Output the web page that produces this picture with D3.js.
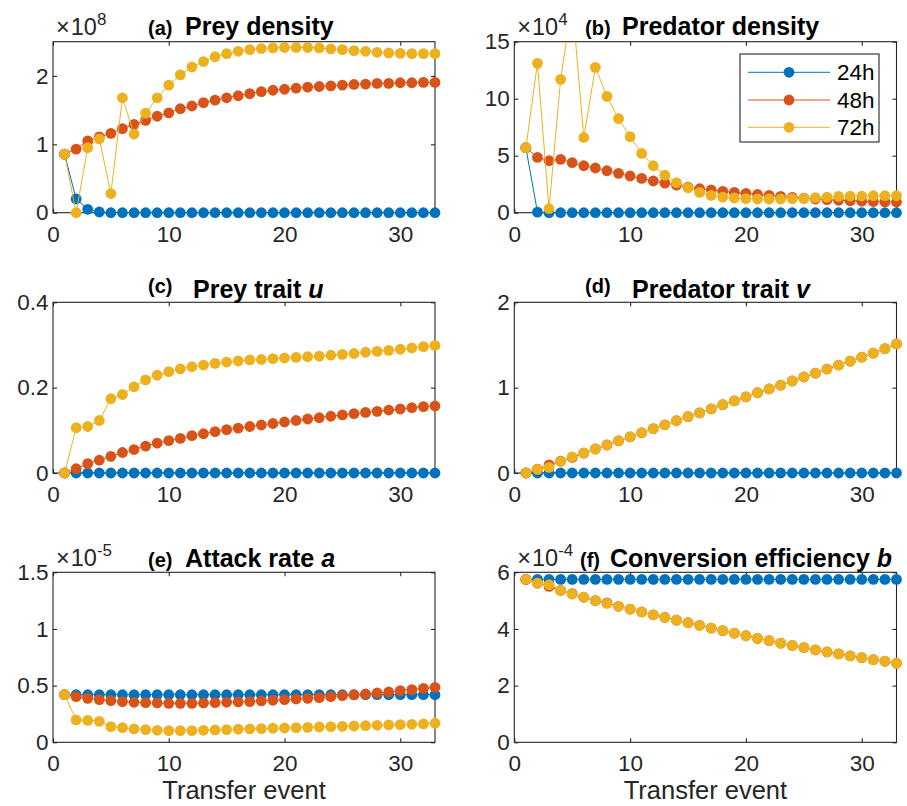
<!DOCTYPE html>
<html>
<head>
<meta charset="utf-8">
<script src="https://cdn.jsdelivr.net/npm/d3@7"></script>
<style>
  body { margin: 0; background: #fff; }
  svg { display: block; font-family: "Liberation Sans", Arial, Helvetica, sans-serif; }
</style>
</head>
<body>
<svg id="fig" width="907" height="806"></svg>
<script>
// Transfer events 1..33 on the x axis
const transferEvent = d3.range(1, 34);
const xTicks = [0, 10, 20, 30];

const seriesNames = ["24h", "48h", "72h"];
const seriesColors = ["#0072BD", "#D95319", "#EDB120"];

// (a) Prey density, in units of 10^8
const preyDensity24 = [0.856, 0.20, 0.05, 0.01, 0, 0, 0, 0, 0, 0, 0, 0, 0, 0, 0, 0, 0, 0, 0, 0, 0, 0, 0, 0, 0, 0, 0, 0, 0, 0, 0, 0, 0];
const preyDensity48 = [0.856, 0.93, 1.05, 1.11, 1.16, 1.23, 1.29, 1.35, 1.41, 1.46, 1.52, 1.56, 1.61, 1.645, 1.68, 1.71, 1.74, 1.77, 1.79, 1.805, 1.82, 1.835, 1.845, 1.855, 1.865, 1.875, 1.88, 1.89, 1.89, 1.90, 1.90, 1.905, 1.905];
const preyDensity72 = [0.856, 0.0, 0.95, 1.08, 0.28, 1.68, 1.15, 1.455, 1.68, 1.865, 2.015, 2.13, 2.21, 2.28, 2.325, 2.36, 2.385, 2.40, 2.41, 2.415, 2.415, 2.415, 2.41, 2.395, 2.385, 2.37, 2.36, 2.345, 2.335, 2.33, 2.325, 2.325, 2.325];

// (b) Predator density, in units of 10^4
const predDensity24 = [5.7, 0.05, 0, 0, 0, 0, 0, 0, 0, 0, 0, 0, 0, 0, 0, 0, 0, 0, 0, 0, 0, 0, 0, 0, 0, 0, 0, 0, 0, 0, 0, 0, 0];
const predDensity48 = [5.7, 4.85, 4.56, 4.68, 4.39, 4.12, 3.92, 3.68, 3.45, 3.22, 3.01, 2.78, 2.6, 2.42, 2.25, 2.1, 1.99, 1.87, 1.78, 1.7, 1.6, 1.52, 1.43, 1.35, 1.27, 1.2, 1.14, 1.09, 1.05, 1.01, 0.98, 0.95, 0.94];
const predDensity72 = [5.7, 13.1, 0.35, 11.7, 18.5, 6.6, 12.75, 10.2, 8.25, 6.67, 5.2, 4.12, 3.3, 2.63, 2.19, 1.78, 1.52, 1.37, 1.29, 1.23, 1.2, 1.2, 1.2, 1.23, 1.26, 1.32, 1.37, 1.43, 1.46, 1.46, 1.49, 1.49, 1.49];

// (c) Prey trait u
const preyTrait24 = [0, 0, 0, 0, 0, 0, 0, 0, 0, 0, 0, 0, 0, 0, 0, 0, 0, 0, 0, 0, 0, 0, 0, 0, 0, 0, 0, 0, 0, 0, 0, 0, 0];
const preyTrait48 = [0, 0.010, 0.022, 0.030, 0.039, 0.048, 0.055, 0.063, 0.070, 0.076, 0.081, 0.0875, 0.092, 0.097, 0.1015, 0.105, 0.109, 0.1125, 0.116, 0.1195, 0.123, 0.1265, 0.1295, 0.133, 0.136, 0.139, 0.142, 0.1445, 0.1475, 0.150, 0.153, 0.1555, 0.157];
const preyTrait72 = [0, 0.106, 0.109, 0.123, 0.174, 0.184, 0.202, 0.218, 0.229, 0.2375, 0.244, 0.249, 0.253, 0.257, 0.260, 0.2625, 0.265, 0.266, 0.268, 0.2695, 0.271, 0.2725, 0.274, 0.276, 0.278, 0.280, 0.283, 0.285, 0.2875, 0.290, 0.293, 0.296, 0.299];

// (d) Predator trait v
const predTrait24 = [0, 0, 0, 0, 0, 0, 0, 0, 0, 0, 0, 0, 0, 0, 0, 0, 0, 0, 0, 0, 0, 0, 0, 0, 0, 0, 0, 0, 0, 0, 0, 0, 0];
const predTrait48 = [0, 0.045, 0.095, 0.14, 0.182, 0.233, 0.281, 0.328, 0.376, 0.424, 0.471, 0.52, 0.565, 0.612, 0.66, 0.705, 0.752, 0.80, 0.845, 0.892, 0.94, 0.985, 1.03, 1.078, 1.125, 1.17, 1.218, 1.265, 1.31, 1.358, 1.405, 1.457, 1.512];
const predTrait72 = [0, 0.043, 0.066, 0.137, 0.19, 0.235, 0.283, 0.33, 0.378, 0.425, 0.472, 0.52, 0.565, 0.612, 0.66, 0.705, 0.752, 0.80, 0.845, 0.892, 0.94, 0.985, 1.03, 1.078, 1.125, 1.17, 1.218, 1.265, 1.31, 1.358, 1.405, 1.457, 1.512];

// (e) Attack rate a, in units of 10^-5
const attack24 = [0.42, 0.42, 0.42, 0.42, 0.42, 0.42, 0.42, 0.42, 0.42, 0.42, 0.42, 0.42, 0.42, 0.42, 0.42, 0.42, 0.42, 0.42, 0.42, 0.42, 0.42, 0.42, 0.42, 0.42, 0.42, 0.42, 0.42, 0.42, 0.42, 0.42, 0.42, 0.42, 0.42];
const attack48 = [0.42, 0.403, 0.388, 0.376, 0.368, 0.359, 0.353, 0.35, 0.347, 0.344, 0.344, 0.344, 0.347, 0.35, 0.353, 0.356, 0.359, 0.365, 0.371, 0.376, 0.382, 0.388, 0.394, 0.403, 0.412, 0.418, 0.426, 0.435, 0.444, 0.456, 0.465, 0.476, 0.485];
const attack72 = [0.42, 0.197, 0.194, 0.185, 0.138, 0.129, 0.118, 0.112, 0.106, 0.103, 0.103, 0.103, 0.106, 0.109, 0.112, 0.115, 0.118, 0.121, 0.124, 0.126, 0.129, 0.132, 0.135, 0.138, 0.141, 0.144, 0.147, 0.15, 0.153, 0.156, 0.159, 0.162, 0.168];

// (f) Conversion efficiency b, in units of 10^-4
const conv24 = [5.75, 5.75, 5.75, 5.75, 5.75, 5.75, 5.75, 5.75, 5.75, 5.75, 5.75, 5.75, 5.75, 5.75, 5.75, 5.75, 5.75, 5.75, 5.75, 5.75, 5.75, 5.75, 5.75, 5.75, 5.75, 5.75, 5.75, 5.75, 5.75, 5.75, 5.75, 5.75, 5.75];
const conv48 = [5.75, 5.62, 5.5, 5.36, 5.25, 5.12, 5.0, 4.92, 4.8, 4.7, 4.6, 4.5, 4.41, 4.31, 4.22, 4.13, 4.03, 3.94, 3.85, 3.76, 3.67, 3.59, 3.5, 3.42, 3.34, 3.26, 3.19, 3.12, 3.05, 2.99, 2.92, 2.86, 2.79];
const conv72 = [5.75, 5.62, 5.56, 5.36, 5.23, 5.12, 5.0, 4.9, 4.8, 4.7, 4.6, 4.5, 4.41, 4.31, 4.22, 4.13, 4.03, 3.94, 3.85, 3.76, 3.67, 3.59, 3.5, 3.42, 3.34, 3.26, 3.19, 3.12, 3.05, 2.99, 2.92, 2.86, 2.79];

// Y-axis tick labels per panel
const yTicksA = [0, 1, 2];
const yTicksB = [0, 5, 10, 15];
const yTicksC = [0, 0.2, 0.4];
const yTicksD = [0, 1, 2];
const yTicksE = [0, 0.5, 1, 1.5];
const yTicksF = [0, 2, 4, 6];

const panels = [
  { tag: "(a)", name: "Prey density ",        sym: "",  exp: "8",  yMax: 2.5, yTicks: yTicksA, data: [preyDensity24, preyDensity48, preyDensity72], col: 0, row: 0 },
  { tag: "(b)", name: "Predator density ",    sym: "",  exp: "4",  yMax: 15,  yTicks: yTicksB, data: [predDensity24, predDensity48, predDensity72], col: 1, row: 0 },
  { tag: "(c)", name: "Prey trait ",          sym: "u", exp: null, yMax: 0.4, yTicks: yTicksC, data: [preyTrait24, preyTrait48, preyTrait72], col: 0, row: 1 },
  { tag: "(d)", name: "Predator trait ",      sym: "v", exp: null, yMax: 2,   yTicks: yTicksD, data: [predTrait24, predTrait48, predTrait72], col: 1, row: 1 },
  { tag: "(e)", name: "Attack rate ",         sym: "a", exp: "-5", yMax: 1.5, yTicks: yTicksE, data: [attack24, attack48, attack72], col: 0, row: 2 },
  { tag: "(f)", name: "Conversion efficiency ", sym: "b", exp: "-4", yMax: 6, yTicks: yTicksF, data: [conv24, conv48, conv72], col: 1, row: 2 }
];

// Axes geometry
const cols = [{ x0: 53, x1: 435, nameX: [185, 193, 185] },
              { x0: 514.3, x1: 896.5, nameX: [622, 632, 610] }];
const rows = [{ y0: 41.7, y1: 212.7, titleY: 35, tagDy: 0 },
              { y0: 302.3, y1: 473, titleY: 298, tagDy: -5 },
              { y0: 572.3, y1: 742.3, titleY: 567, tagDy: 0 }];
const tagXs = [[148, 585], [148, 585], [148, 580]];

const axisColor = "#262626";
const svg = d3.select("#fig");
const fmt = d3.format("~g");

panels.forEach((p, i) => {
  const c = cols[p.col], r = rows[p.row];
  const x = d3.scaleLinear().domain([0, 33]).range([c.x0, c.x1]);
  const y = d3.scaleLinear().domain([0, p.yMax]).range([r.y1, r.y0]);
  const g = svg.append("g");

  // box
  g.append("rect")
    .attr("x", c.x0).attr("y", r.y0)
    .attr("width", c.x1 - c.x0).attr("height", r.y1 - r.y0)
    .attr("fill", "#fff").attr("stroke", axisColor).attr("stroke-width", 1.1);

  // axes with inward ticks
  const styleAxis = sel => {
    sel.select(".domain").remove();
    sel.selectAll(".tick line").attr("stroke", axisColor).attr("stroke-width", 1.1);
    sel.selectAll(".tick text").attr("fill", axisColor).attr("font-size", 22.5)
       .attr("font-family", "'Liberation Sans', Arial, sans-serif");
  };
  g.append("g").attr("transform", `translate(0,${r.y1})`)
    .call(d3.axisBottom(x).tickValues(xTicks).tickSize(-4).tickPadding(13).tickFormat(fmt))
    .call(styleAxis);
  g.append("g").attr("transform", `translate(0,${r.y0})`)
    .call(d3.axisTop(x).tickValues(xTicks).tickSize(-4).tickFormat(""))
    .call(styleAxis);
  g.append("g").attr("transform", `translate(${c.x0},0)`)
    .call(d3.axisLeft(y).tickValues(p.yTicks).tickSize(-4).tickPadding(4.5).tickFormat(fmt))
    .call(styleAxis);
  g.append("g").attr("transform", `translate(${c.x1},0)`)
    .call(d3.axisRight(y).tickValues(p.yTicks).tickSize(-4).tickFormat(""))
    .call(styleAxis);

  // clip region for the connecting lines
  const clipId = "clip" + i;
  svg.append("clipPath").attr("id", clipId).append("rect")
    .attr("x", c.x0).attr("y", r.y0).attr("width", c.x1 - c.x0).attr("height", r.y1 - r.y0);

  const line = d3.line().x((d, k) => x(transferEvent[k])).y(d => y(d));

  p.data.forEach((vals, s) => {
    g.append("path")
      .attr("d", line(vals))
      .attr("fill", "none")
      .attr("stroke", seriesColors[s])
      .attr("stroke-width", 1)
      .attr("clip-path", `url(#${clipId})`);
    g.append("g").selectAll("circle")
      .data(vals.map((v, k) => ({ x: transferEvent[k], v })).filter(d => d.v >= 0 && d.v <= p.yMax))
      .join("circle")
      .attr("cx", d => x(d.x)).attr("cy", d => y(d.v))
      .attr("r", 5.4)
      .attr("fill", seriesColors[s]);
  });

  // exponent label
  if (p.exp) {
    const t = g.append("text")
      .attr("x", c.x0 + 3).attr("y", r.y0 - 6.5)
      .attr("fill", axisColor).attr("font-size", 23.5);
    t.append("tspan").text("\u00d7");
    t.append("tspan").attr("dx", 1).text("10");
    t.append("tspan").attr("dy", -10).attr("font-size", 17).text(p.exp);
  }

  // title
  const tt = g.append("g").attr("font-weight", "bold").attr("fill", "#000");
  tt.append("text")
    .attr("x", tagXs[p.row][p.col]).attr("y", r.titleY + r.tagDy)
    .attr("font-size", 20).text(p.tag);
  const nt = tt.append("text")
    .attr("x", c.nameX[p.row]).attr("y", r.titleY)
    .attr("font-size", 25);
  nt.append("tspan").text(p.name);
  if (p.sym) nt.append("tspan").attr("font-style", "italic").text(p.sym);

  // x label on bottom row
  if (p.row === 2) {
    g.append("text")
      .attr("x", (c.x0 + c.x1) / 2).attr("y", 799)
      .attr("text-anchor", "middle")
      .attr("fill", axisColor).attr("font-size", 25.5)
      .text("Transfer event");
  }
});

// Legend in panel (b)
const legend = svg.append("g");
legend.append("rect")
  .attr("x", 740).attr("y", 54).attr("width", 139).attr("height", 88)
  .attr("fill", "#fff").attr("stroke", axisColor).attr("stroke-width", 1.1);
const legendRows = [72.3, 100, 127.3];
seriesNames.forEach((n, s) => {
  const ly = legendRows[s];
  legend.append("line").attr("x1", 748).attr("x2", 830).attr("y1", ly).attr("y2", ly)
    .attr("stroke", seriesColors[s]).attr("stroke-width", 1);
  legend.append("circle").attr("cx", 789).attr("cy", ly).attr("r", 5.4).attr("fill", seriesColors[s]);
  legend.append("text").attr("x", 837).attr("y", ly).attr("dy", "0.36em")
    .attr("font-size", 22.5).attr("fill", "#000").text(n);
});
</script>
</body>
</html>
